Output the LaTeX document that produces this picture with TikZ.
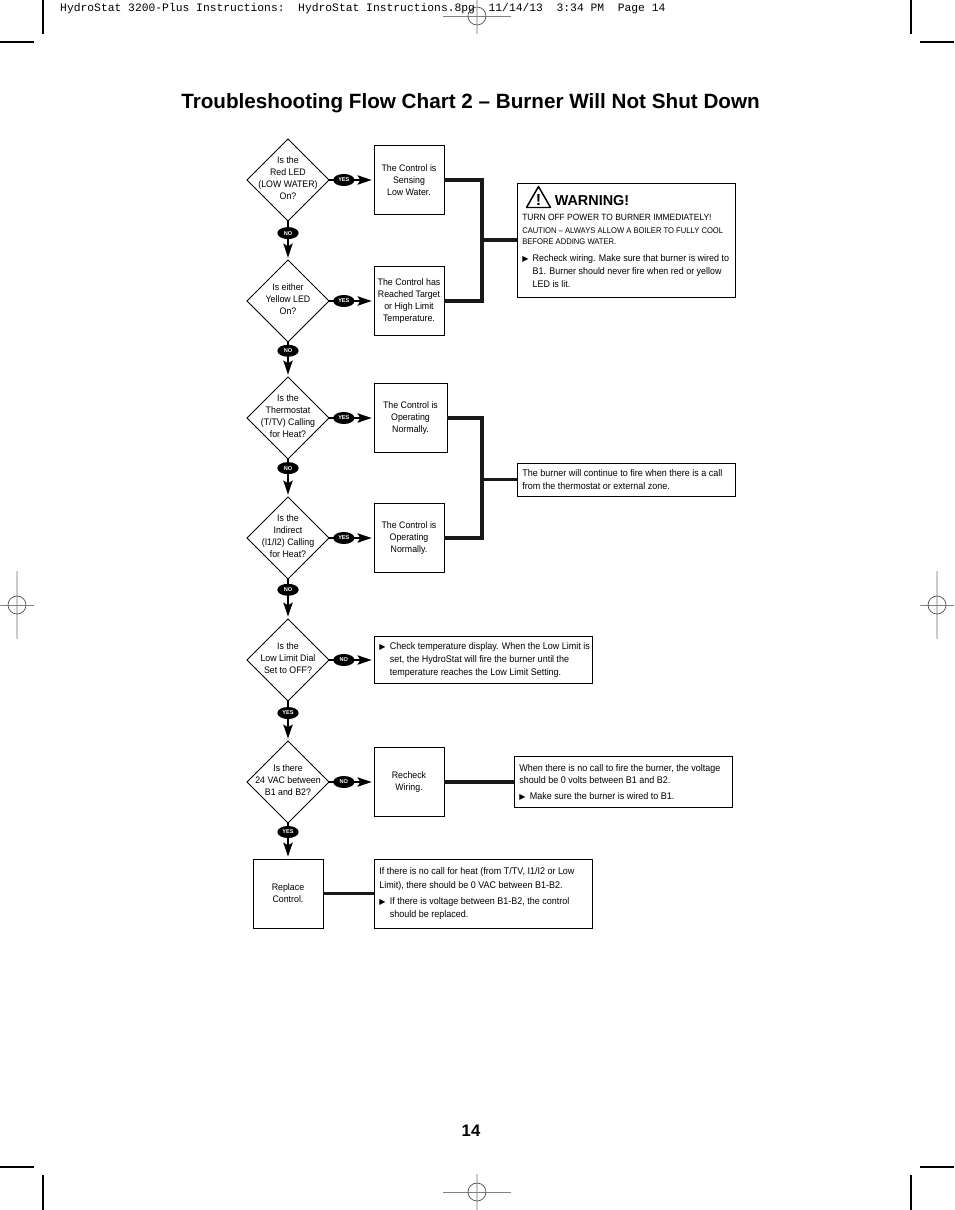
\documentclass[tikz,border=0pt]{standalone}
\usepackage{fontspec}
\setmainfont{Liberation Sans}
\newfontfamily\condfont[FakeStretch=0.93]{Liberation Sans}
\newfontfamily\symfont{DejaVu Sans}
\newfontfamily\headfont{Liberation Mono}
\usetikzlibrary{positioning,arrows.meta,calc,shapes.geometric}

\newcommand{\qlines}[1]{\smash{\makebox[0pt]{\raisebox{-.8pt}{\begin{tabular}{@{}c@{}}#1\end{tabular}}}}}
\newcommand{\bul}{\makebox[7.8pt][l]{\symfont\fontsize{6}{9}\selectfont ▶}}
\newcommand{\ind}{\hspace*{7.8pt}}

\begin{document}
\begin{tikzpicture}[
  x=.75pt, y=-.75pt,
  query/.style={
    diamond, draw, line width=.7pt, aspect=1, outer sep=0pt,
    minimum width=61.5pt, minimum height=61.5pt, inner sep=0pt,
    font=\condfont\fontsize{7.1}{9}\selectfont
  },
  answer/.style={
    draw, line width=.7pt, minimum width=52.5pt, minimum height=51.75pt,
    inner sep=0pt, outer sep=0pt, align=center,
    font=\condfont\fontsize{7.1}{9}\selectfont
  },
  note/.style={
    draw, line width=.7pt, text width=156pt, inner xsep=4.1pt, inner ysep=2pt,
    outer sep=0pt, align=flush left, font=\condfont\fontsize{7.25}{10}\selectfont
  },
  pill/.style={
    ellipse, fill=black, text=white, inner sep=0pt,
    minimum width=16pt, minimum height=9pt,
    font=\bfseries\fontsize{4.2}{5}\selectfont
  },
  arr/.style={
    -{Stealth[length=10.5pt,width=7pt,inset=2pt]}, line width=1.2pt,
    shorten >=1.8pt
  },
  bus/.style={line width=2.6pt, black!90},
  crop/.style={line width=.8pt},
  reg/.style={line width=.5pt, black!50},
  regwide/.style={line width=1.5pt, black!20}
]
  \useasboundingbox (0,0) rectangle (954,1210);

  % Printer marks
  \foreach \cx/\sx in {43/-1,911/1} {
    \draw[crop] (\cx,0) -- (\cx,34);
    \draw[crop] (\cx,1175) -- (\cx,1210);
    \draw[crop] (\cx+\sx*9,42) -- (\cx+\sx*43,42);
    \draw[crop] (\cx+\sx*9,1167) -- (\cx+\sx*43,1167);
  }
  \foreach \rx/\ry/\rh/\rv in {477/16/34/18,477/1192/34/18,17/605/17/34,937/605/17/34} {
    \draw[regwide] (\rx,\ry-\rv) -- (\rx,\ry+\rv);
    \draw[reg] (\rx-\rh,\ry) -- (\rx+\rh,\ry);
    \draw[reg, black!70] (\rx,\ry) circle (9);
  }

  \node[font=\headfont\fontsize{8.5}{10}\selectfont, anchor=west] (slug) at (55.5,9)
    {HydroStat 3200-Plus Instructions:\ \ HydroStat Instructions.8pg\ \ 11/14/13\ \ 3:34 PM\ \ Page 14};
  \node[font=\bfseries\fontsize{15.5}{18}\selectfont] (title) at (470.5,103)
    {Troubleshooting Flow Chart 2 – Burner Will Not Shut Down};
  \node[font=\bfseries\fontsize{12.5}{14}\selectfont] (page) at (471,1131) {14};

  % Questions down the left
  \node[query] (q1) at (288,180) {\qlines{Is the\\Red LED\\(LOW WATER)\\On?}};
  \node[query, below=29.25pt of q1] (q2) {\qlines{Is either\\Yellow LED\\On?}};
  \node[query, below=26.25pt of q2] (q3) {\qlines{Is the\\Thermostat\\(T/TV) Calling\\for Heat?}};
  \node[query, below=28.5pt of q3]  (q4) {\qlines{Is the\\Indirect\\(I1/I2) Calling\\for Heat?}};
  \node[query, below=30pt of q4]    (q5) {\qlines{Is the\\Low Limit Dial\\Set to OFF?}};
  \node[query, below=30pt of q5]    (q6) {\qlines{Is there\\24 VAC between\\B1 and B2?}};
  \node[answer, below=27pt of q6]   (repl) {Replace\\Control.};

  % Answers
  \node[answer, right=33.75pt of q1] (a1) {The Control is\\Sensing\\Low Water.};
  \node[answer, right=33.75pt of q2] (a2) {The Control has\\Reached Target\\or High Limit\\Temperature.};
  \node[answer, right=33.75pt of q3, minimum width=54.75pt] (a3) {The Control is\\Operating\\Normally.};
  \node[answer, right=33.75pt of q4] (a4) {The Control is\\Operating\\Normally.};
  \node[answer, right=33.75pt of q6] (a6) {Recheck\\Wiring.};

  % Notes
  \coordinate (j1) at (482,240);
  \coordinate (j2) at (482,479.5);
  \node[note, minimum height=85.5pt, right=26.25pt of j1] (warn) {};
  \draw[line width=1.1pt, line join=round] (526.5,207.5) -- (538.5,186.5) -- (550.5,207.5) -- cycle;
  \node[font=\bfseries\fontsize{12}{12}\selectfont, inner sep=0pt] (warnmark) at (538.5,199.5) {!};
  \node[font=\bfseries\fontsize{10.8}{12}\selectfont, anchor=west, inner sep=0pt] (warnhead) at (554.5,200.5) {WARNING!};
  \node[font=\condfont\fontsize{6.8}{9}\selectfont, anchor=west, inner sep=0pt] (warnoff) at (522,217.5)
    {TURN OFF POWER TO BURNER IMMEDIATELY!};
  \node[font=\condfont\fontsize{6.15}{7.6}\selectfont, anchor=north west, inner sep=0pt, align=left] (warncaut) at (522,228)
    {CAUTION – ALWAYS ALLOW A BOILER TO FULLY COOL\\BEFORE ADDING WATER.};
  \node[font=\condfont\fontsize{7.2}{10}\selectfont, anchor=north west, inner sep=0pt, align=left] (warnwire) at (522,254)
    {\bul Recheck wiring. Make sure that burner is wired to\\\ind B1. Burner should never fire when red or yellow\\\ind LED is lit.};
  \node[note, minimum height=24.75pt, right=26.25pt of j2] (burn)
    {The burner will continue to fire when there is a call\\from the thermostat or external zone.};
  \node[note, minimum height=35.25pt, right=33.75pt of q5] (chk)
    {\mbox{\bul Check temperature display. When the Low Limit is}\\\ind set, the HydroStat will fire the burner until the\\\ind temperature reaches the Low Limit Setting.};
  \node[note, minimum height=38.25pt, right=52.5pt of a6] (volt)
    {When there is no call to fire the burner, the voltage\\[-1pt]should be 0 volts between B1 and B2.\\[2pt]\bul Make sure the burner is wired to B1.};
  \node[note, minimum height=51.75pt, right=38.25pt of repl] (call)
    {If there is no call for heat (from T/TV, I1/I2 or Low\\Limit), there should be 0 VAC between B1-B2.\\[2pt]\bul If there is voltage between B1-B2, the control\\\ind should be replaced.};

  % Arrows
  \draw[arr] (q1) -- node[pill, pos=.33] (y1) {YES} (a1);
  \draw[arr] (q2) -- node[pill, pos=.33] (y2) {YES} (a2);
  \draw[arr] (q3) -- node[pill, pos=.33] (y3) {YES} (a3);
  \draw[arr] (q4) -- node[pill, pos=.33] (y4) {YES} (a4);
  \draw[arr] (q5) -- node[pill, pos=.33] (n5) {NO} (chk);
  \draw[arr] (q6) -- node[pill, pos=.33] (n6) {NO} (a6);
  \draw[arr] (q1) -- node[pill, pos=.31] (n1) {NO} (q2);
  \draw[arr] (q2) -- node[pill, pos=.25] (n2) {NO} (q3);
  \draw[arr] (q3) -- node[pill, pos=.24] (n3) {NO} (q4);
  \draw[arr] (q4) -- node[pill, pos=.27] (n4) {NO} (q5);
  \draw[arr] (q5) -- node[pill, pos=.3] (y5) {YES} (q6);
  \draw[arr] (q6) -- node[pill, pos=.25] (y6) {YES} (repl);

  % Heavy bars
  \draw[bus] (a1.east) -| (j1) |- (a2.east);
  \draw[bus] (j1) -- (warn.west);
  \draw[bus] (a3.east) -| (j2) |- (a4.east);
  \draw[bus] (j2) -- (burn.west);
  \draw[bus] (a6) -- (volt);
  \draw[bus] (repl) -- (call);

\end{tikzpicture}
\end{document}
